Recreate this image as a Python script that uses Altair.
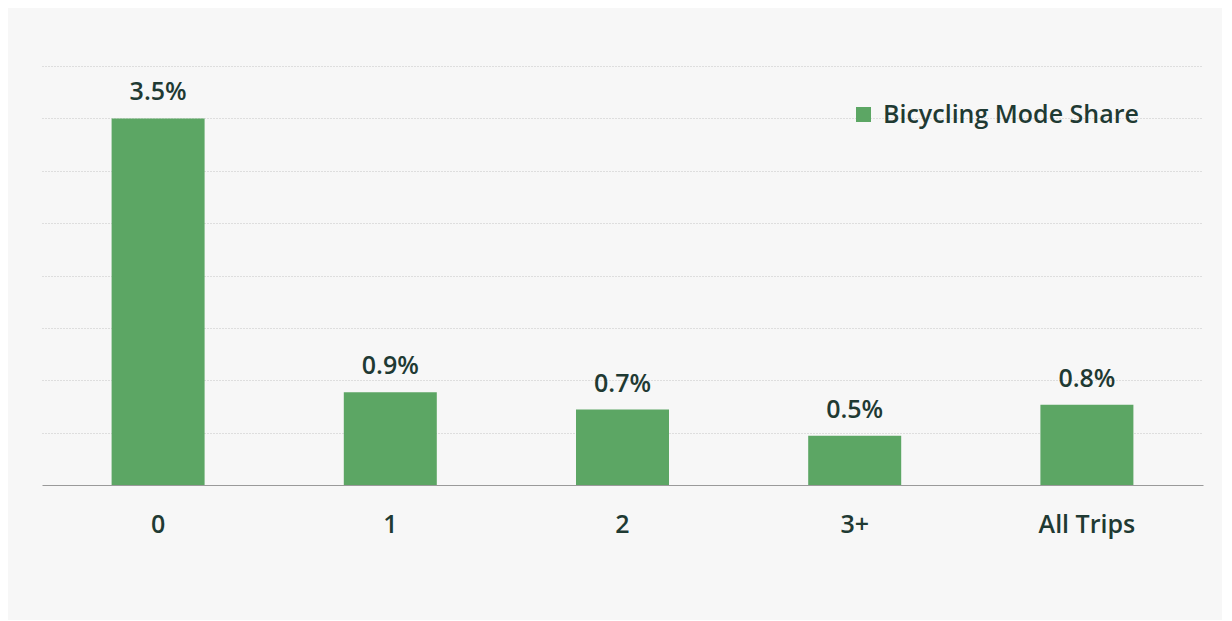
import altair as alt
import pandas as pd

categories = ["0", "1", "2", "3+", "All Trips"]
shares = [3.5, 0.885, 0.72, 0.47, 0.765]
series_name = "Bicycling Mode Share"
grid_values = [0.5, 1.0, 1.5, 2.0, 2.5, 3.0, 3.5, 4.0]

df = pd.DataFrame({"cat": categories, "share": shares, "series": [series_name] * len(categories)})
df["label"] = df["share"].map(lambda v: f"{v:.1f}%")

FONT = "Open Sans"
TXT = "#1f3a33"
GREEN = "#5ca664"
FS = 25

x = alt.X("cat:N", sort=categories, title=None,
          scale=alt.Scale(paddingInner=0.6, paddingOuter=0.3),
          axis=alt.Axis(labelAngle=0, ticks=False, domainColor="#9a9a9a", domainWidth=1.2,
                        labelFont=FONT, labelFontSize=FS, labelFontWeight=600,
                        labelColor=TXT, labelPadding=27, grid=False))
y = alt.Y("share:Q", title=None, scale=alt.Scale(domain=[0, 4], nice=False),
          axis=alt.Axis(values=grid_values, labels=False, ticks=False, domain=False,
                        grid=True, gridColor="#c4c4c4", gridDash=[1, 2], gridWidth=1))

bars = alt.Chart(df).mark_bar(size=93).encode(
    x=x, y=y,
    color=alt.Color("series:N", scale=alt.Scale(range=[GREEN]),
                    legend=alt.Legend(title=None, orient="none", legendX=809, legendY=36,
                                      symbolType="square", symbolSize=225, symbolStrokeWidth=0,
                                      symbolOpacity=1, labelFont=FONT, labelFontSize=FS,
                                      labelFontWeight=600, labelColor=TXT, labelOffset=7,
                                      labelLimit=0, padding=0))
)

text = alt.Chart(df).mark_text(font=FONT, fontSize=FS, fontWeight=600, color=TXT,
                               baseline="alphabetic", dy=-18).encode(
    x=alt.X("cat:N", sort=categories), y="share:Q", text="label:N")

chart = (bars + text).properties(
    width=1161, height=419,
    background="#f7f7f7",
    padding={"left": 34, "top": 58, "right": 19, "bottom": 135},
    autosize=alt.AutoSizeParams(type="none"),
).configure_view(strokeWidth=0)

chart.save("out.html", embed_options={"renderer": "svg", "actions": False})
